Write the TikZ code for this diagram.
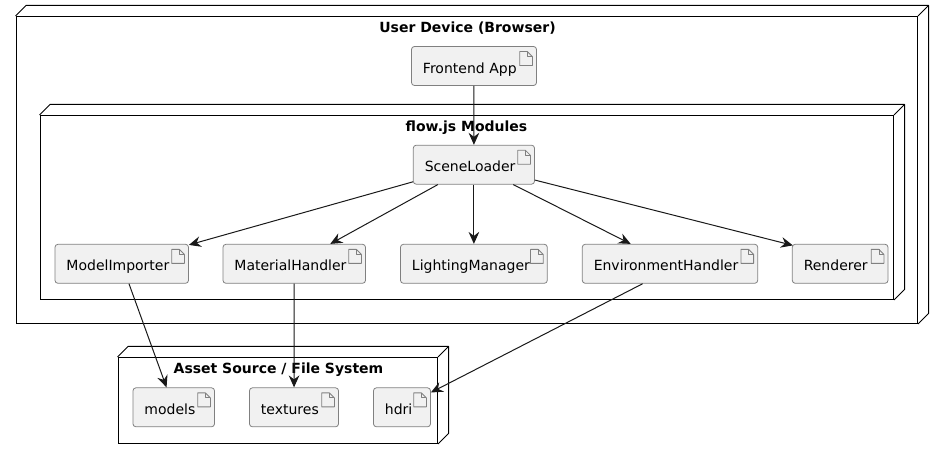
\documentclass[tikz,border=0pt]{standalone}
\usepackage{fontspec}
\setmainfont{DejaVu Sans}
\usetikzlibrary{calc, arrows.meta}

\tikzset{
    artifact/.style={draw=black!50, fill=black!5.5, rounded corners=2.2pt, line width=0.6pt,
        text height=20pt, text depth=9.25pt, inner xsep=8.6pt, inner ysep=0pt,
        font=\fontsize{10.5pt}{12pt}\selectfont},
    device/.style={draw=black, line width=0.75pt, inner sep=0pt},
    devicetitle/.style={font=\fontsize{10.5pt}{12pt}\selectfont\bfseries},
    conn/.style={-{Stealth[length=9pt, width=8pt, inset=3pt]}, line width=0.75pt, black!90}
}

\begin{document}
\begin{tikzpicture}[x=0.75pt, y=-0.75pt]

    % Page size
    \useasboundingbox (0,0) rectangle (943,459);

    % Parameters
    \def\depth{10.5}

    % Devices: name / left / right / top / bottom
    \foreach \name/\xa/\xb/\ya/\yb in {
        userDevice/16/917.5/16.5/323.5,
        flowModules/40/893.5/115.5/299.5,
        assetSource/118/437.5/357.5/443.5}
    {
        \node[device, minimum width={(\xb-\xa)*0.75pt}, minimum height={(\yb-\ya)*0.75pt}]
            (\name) at ({(\xa+\xb)/2}, {(\ya+\yb)/2}) {};
        \draw[line width=0.75pt, line join=round] (\name.north west) -- ++(\depth,-\depth)
            -- ($(\name.north east)+(\depth,-\depth)$) -- (\name.north east);
        \draw[line width=0.75pt, line join=round] ($(\name.north east)+(\depth,-\depth)$)
            -- ($(\name.south east)+(\depth,-\depth)$) -- (\name.south east);
    }

    % Device titles
    \node[devicetitle] (userTitle)  at (467.5, 28.5) {User Device (Browser)};
    \node[devicetitle] (flowTitle)  at (466.5, 128)  {flow.js Modules};
    \node[devicetitle] (assetTitle) at (278.5, 369.5) {Asset Source / File System};

    % Artifacts: name / left / right / middle / label
    \foreach \name/\xa/\xb/\ym/\txt in {
        FrontendApp/411.5/536.5/66/Frontend App,
        SceneLoader/413.3/534.5/164.7/SceneLoader,
        ModelImporter/55/188.5/263.8/ModelImporter,
        MaterialHandler/223/365.5/263.8/MaterialHandler,
        LightingManager/400.5/547.3/263.8/LightingManager,
        EnvironmentHandler/582.3/757.7/263.8/EnvironmentHandler,
        Renderer/792.3/888/263.8/Renderer,
        models/133/214.5/407.3/models,
        textures/249.5/338.5/407.3/textures,
        hdri/373.5/430.5/407.3/hdri}
    {
        \node[artifact, text width={(\xb-\xa)*0.75pt-17.2pt}, align=left]
            (\name) at ({(\xa+\xb)/2}, \ym) {\txt};
        % Page icon
        \draw[black!50, line width=0.6pt, line join=round]
            ($(\name.north east)+(-17.2,5.5)$) -- ++(7.7,0) -- ++(5,5) -- ++(0,9)
            -- ++(-12.7,0) -- cycle;
        \draw[black!50, line width=0.6pt, line join=round]
            ($(\name.north east)+(-9.5,5.5)$) -- ++(0,5) -- ++(5,0);
    }

    % Connectors
    \draw[conn] (FrontendApp) -- (SceneLoader);
    \draw[conn] (SceneLoader) -- (ModelImporter);
    \draw[conn] (SceneLoader) -- (MaterialHandler);
    \draw[conn] (SceneLoader) -- (LightingManager);
    \draw[conn] (SceneLoader) -- (EnvironmentHandler);
    \draw[conn] (SceneLoader) -- ($(Renderer.north west)+(1,1.5)$);
    \draw[conn] (ModelImporter) -- (models);
    \draw[conn] (MaterialHandler) -- (textures);
    \draw[conn] ($(EnvironmentHandler.south)+(-27.3,0)$) -- (hdri);

\end{tikzpicture}
\end{document}
